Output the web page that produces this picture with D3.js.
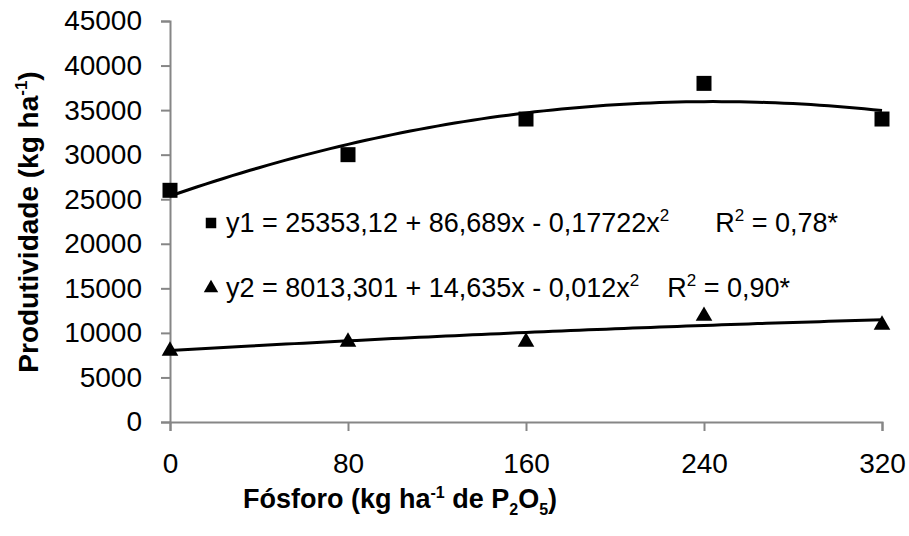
<!DOCTYPE html>
<html><head><meta charset="utf-8">
<script src="https://cdn.jsdelivr.net/npm/d3@7"></script>
<style>body{margin:0;background:#fff}text{font-family:"Liberation Sans",Arial,sans-serif}</style>
</head><body>
<svg id="c" width="909" height="536"></svg>
<script>
const doses = [0, 80, 160, 240, 320];
const y1Values = [26000, 30000, 34000, 38000, 34000];
const y2Values = [8100, 9100, 9100, 12000, 11000];
const y1Coef = [25353.12, 86.689, -0.17722];
const y2Coef = [8013.301, 14.635, -0.012];
const yTicks = [0,5000,10000,15000,20000,25000,30000,35000,40000,45000];

const svg = d3.select("#c");
const x = d3.scaleLinear().domain([0,320]).range([170,882]);
const y = d3.scaleLinear().domain([0,45000]).range([422,21]);
const axisColor = "#868686";

const gy = svg.append("g").attr("transform","translate(170,0)")
  .call(d3.axisLeft(y).tickValues(yTicks).tickSize(9).tickPadding(19).tickFormat(d3.format("d")));
const gx = svg.append("g").attr("transform","translate(0,422)")
  .call(d3.axisBottom(x).tickValues(doses).tickSize(9).tickPadding(22).tickFormat(d3.format("d")));
[gy,gx].forEach(g=>{
  g.attr("font-size",null).attr("font-family",null);
  g.select(".domain").attr("stroke",axisColor).attr("stroke-width",2);
  g.selectAll(".tick line").attr("stroke",axisColor).attr("stroke-width",2);
  g.selectAll(".tick text").attr("fill","#000").style("font-size","28px").style("font-family","'Liberation Sans',Arial,sans-serif");
});

function curve(c){
  const pts = d3.range(0,321,4).map(v=>[v, c[0]+c[1]*v+c[2]*v*v]);
  return d3.line().x(d=>x(d[0])).y(d=>y(d[1])).curve(d3.curveLinear)(pts);
}
svg.append("path").attr("d",curve(y1Coef)).attr("fill","none").attr("stroke","#000").attr("stroke-width",3);
svg.append("path").attr("d",curve(y2Coef)).attr("fill","none").attr("stroke","#000").attr("stroke-width",3);

const sq = d3.symbol().type(d3.symbolSquare).size(225);
const tri = d3.symbol().type(d3.symbolTriangle).size(120);
svg.selectAll(".s1").data(doses).join("path").attr("d",sq)
  .attr("transform",(d,i)=>`translate(${x(d)},${y(y1Values[i])})`).attr("fill","#000");
svg.selectAll(".s2").data(doses).join("path").attr("d",tri)
  .attr("transform",(d,i)=>`translate(${x(d)},${y(y2Values[i])+1})`).attr("fill","#000");

// equations
svg.append("path").attr("d",d3.symbol().type(d3.symbolSquare).size(110)).attr("transform","translate(211,223)").attr("fill","#000");
svg.append("path").attr("d",d3.symbol().type(d3.symbolTriangle).size(90)).attr("transform","translate(211,288)").attr("fill","#000");
const e1 = svg.append("text").attr("x",226).attr("y",232).style("font-size","27px");
e1.append("tspan").text("y1 = 25353,12 + 86,689x - 0,17722x");
e1.append("tspan").text("2").attr("dy",-11).style("font-size","17px");
e1.append("tspan").text("R").attr("dy",11).attr("dx",46);
e1.append("tspan").text("2").attr("dy",-11).style("font-size","17px");
e1.append("tspan").text(" = 0,78*").attr("dy",11);
const e2 = svg.append("text").attr("x",226).attr("y",297).style("font-size","27px");
e2.append("tspan").text("y2 = 8013,301 + 14,635x - 0,012x");
e2.append("tspan").text("2").attr("dy",-11).style("font-size","17px");
e2.append("tspan").text("R").attr("dy",11).attr("dx",28);
e2.append("tspan").text("2").attr("dy",-11).style("font-size","17px");
e2.append("tspan").text(" = 0,90*").attr("dy",11);

// axis titles
const yt = svg.append("text").attr("transform","translate(38,222) rotate(-90)").attr("text-anchor","middle")
  .style("font-size","28px").style("font-weight","bold");
yt.append("tspan").text("Produtividade (kg ha");
yt.append("tspan").text("-1").attr("dy",-11).style("font-size","17px");
yt.append("tspan").text(")").attr("dy",11);
const xt = svg.append("text").attr("x",400).attr("y",508).attr("text-anchor","middle")
  .style("font-size","27px").style("font-weight","bold");
xt.append("tspan").text("Fósforo (kg ha");
xt.append("tspan").text("-1").attr("dy",-10).style("font-size","16px");
xt.append("tspan").text(" de P").attr("dy",10);
xt.append("tspan").text("2").attr("dy",7).style("font-size","16px");
xt.append("tspan").text("O").attr("dy",-7);
xt.append("tspan").text("5").attr("dy",7).style("font-size","16px");
xt.append("tspan").text(")").attr("dy",-7);
</script>
</body></html>
